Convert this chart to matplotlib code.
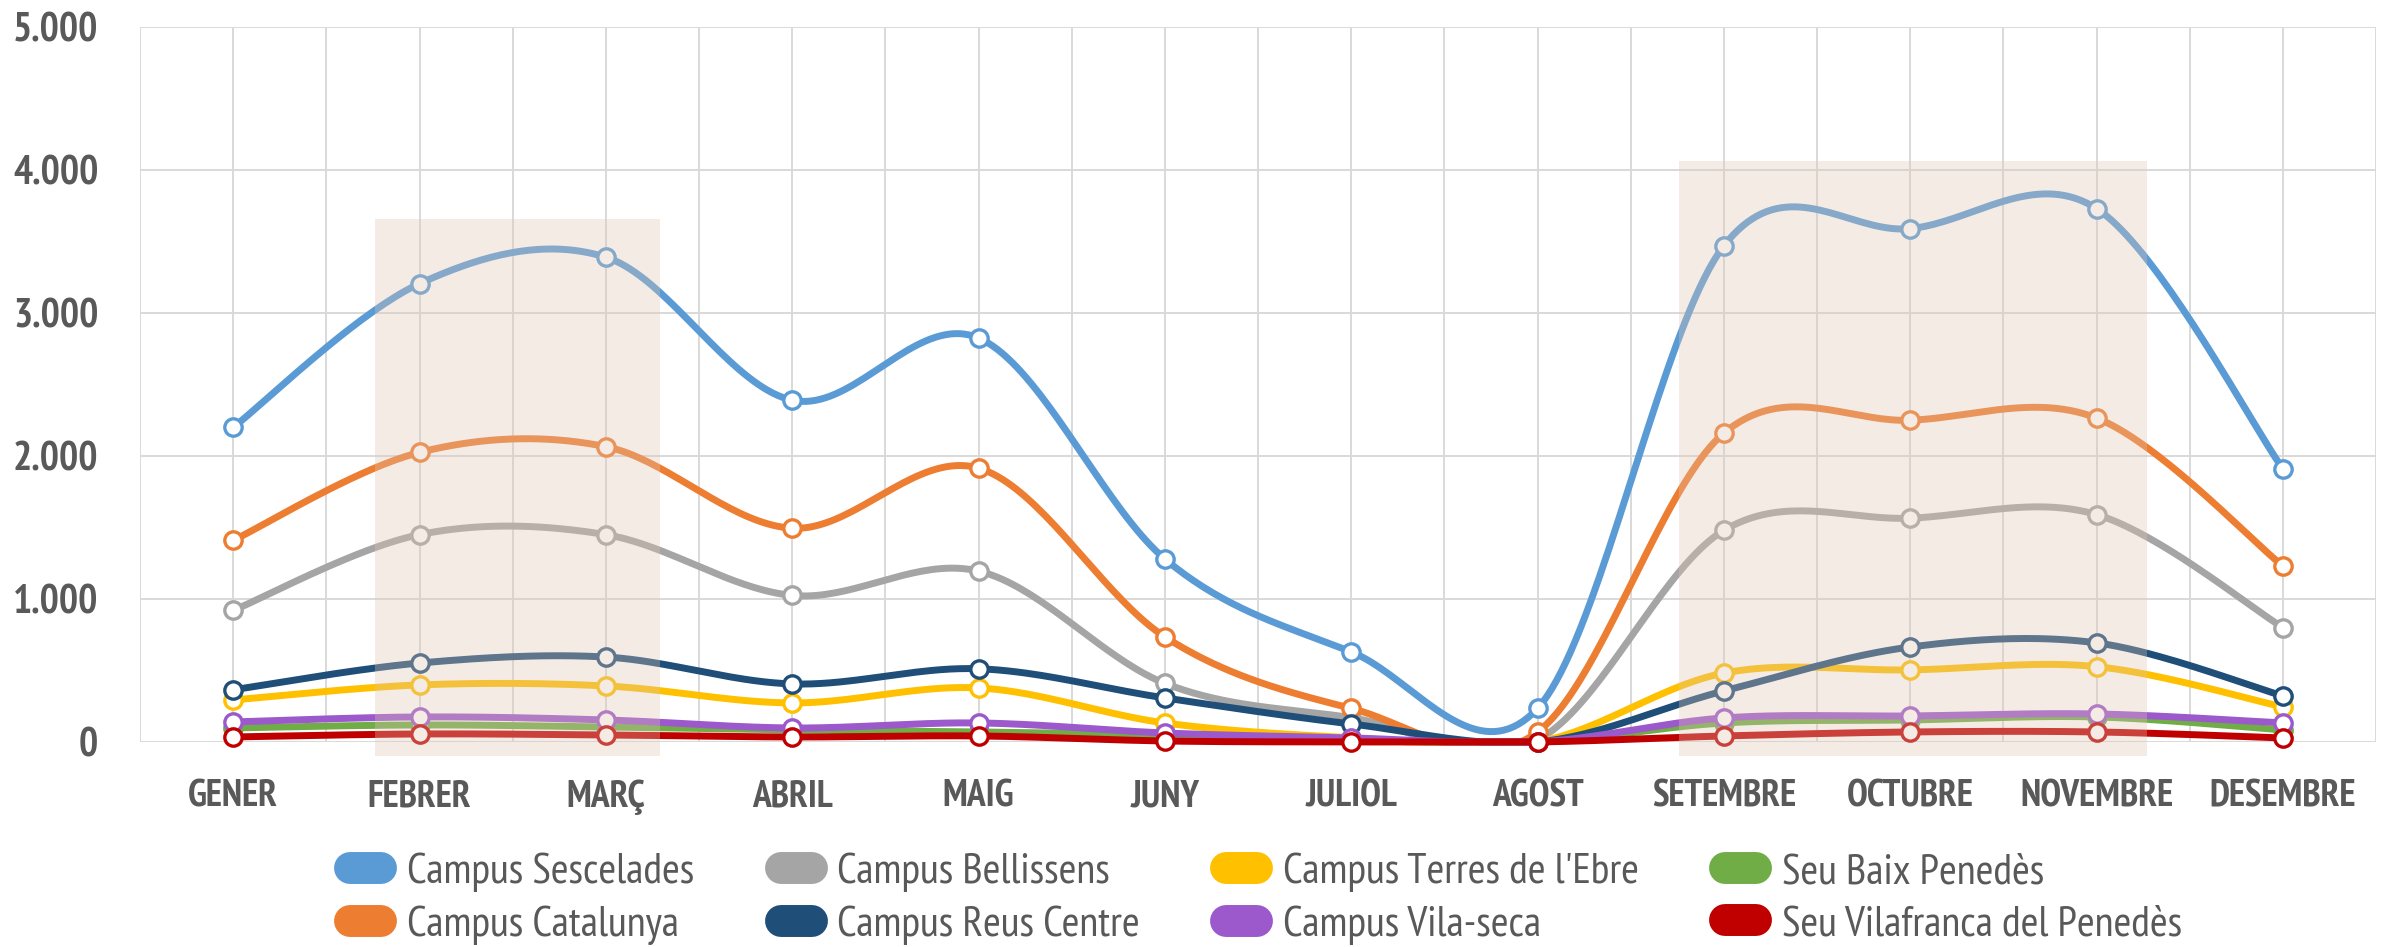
import matplotlib.pyplot as plt
import numpy as np
from matplotlib.lines import Line2D
from matplotlib.patches import Rectangle

mesos = ["GENER", "FEBRER", "MARÇ", "ABRIL", "MAIG", "JUNY", "JULIOL",
         "AGOST", "SETEMBRE", "OCTUBRE", "NOVEMBRE", "DESEMBRE"]

sescelades = [2200, 3205, 3390, 2390, 2825, 1280, 630, 235, 3470, 3590, 3730, 1910]
catalunya = [1410, 2025, 2065, 1495, 1915, 735, 235, 70, 2160, 2250, 2265, 1230]
bellissens = [920, 1450, 1450, 1025, 1195, 410, 170, 15, 1480, 1565, 1590, 800]
reus = [365, 552, 594, 406, 512, 308, 126, 0, 357, 664, 693, 322]
terres = [294, 399, 392, 273, 378, 133, 30, 0, 482, 504, 527, 245]
vilaseca = [140, 175, 154, 98, 133, 63, 28, 0, 168, 182, 196, 133]
baix = [98, 119, 105, 84, 70, 49, 14, 0, 133, 154, 175, 84]
vilafranca = [35, 56, 49, 35, 42, 7, 0, 0, 42, 70, 70, 28]

# (nom, valors, color) in Excel series order
series = [
    ("Campus Sescelades", sescelades, "#5B9BD5"),
    ("Campus Bellissens", bellissens, "#A5A5A5"),
    ("Campus Terres de l'Ebre", terres, "#FFC000"),
    ("Seu Baix Penedès", baix, "#70AD47"),
    ("Campus Catalunya", catalunya, "#ED7D31"),
    ("Campus Reus Centre", reus, "#1F4E79"),
    ("Campus Vila-seca", vilaseca, "#9B59CB"),
    ("Seu Vilafranca del Penedès", vilafranca, "#C00000"),
]
ordre_llegenda = [0, 4, 1, 5, 2, 6, 3, 7]

# shaded periods: (x start, x end, top)
periodes = [(0.76, 2.29, 3660), (7.76, 10.27, 4060)]

FONT = ["PT Sans Narrow", "DejaVu Sans"]
GRIS = "#595959"


def suavitzar(y, n=40):
    # Excel-like smoothed line (Bezier with 1/6 tangents)
    y = np.asarray(y, dtype=float)
    x = np.arange(len(y), dtype=float)
    xs, ys = [], []
    t = np.linspace(0, 1, n)
    for i in range(len(y) - 1):
        i0, i3 = max(i - 1, 0), min(i + 2, len(y) - 1)
        p0 = np.array([x[i], y[i]])
        p3 = np.array([x[i + 1], y[i + 1]])
        p1 = p0 + (np.array([x[i + 1], y[i + 1]]) - np.array([x[i0], y[i0]])) / 6
        p2 = p3 - (np.array([x[i3], y[i3]]) - np.array([x[i], y[i]])) / 6
        b = ((1 - t) ** 3)[:, None] * p0 + (3 * (1 - t) ** 2 * t)[:, None] * p1 \
            + (3 * (1 - t) * t ** 2)[:, None] * p2 + (t ** 3)[:, None] * p3
        xs.append(b[:, 0])
        ys.append(b[:, 1])
    return np.concatenate(xs), np.clip(np.concatenate(ys), 0, None)


fig = plt.figure(figsize=(23.89, 9.47), dpi=100)
ax = fig.add_axes([0.0586, 0.2165, 0.936, 0.755])

x = np.arange(len(mesos))
for k, (nom, vals, col) in enumerate(series):
    xs, ys = suavitzar(vals)
    ax.plot(xs, ys, color=col, lw=5, solid_capstyle="round", zorder=3 + k, clip_on=False)
    ax.plot(x, vals, "o", ms=12.5, mfc="white", mec=col, mew=2.4, zorder=3 + k, clip_on=False)

for x0, x1, top in periodes:
    ax.add_patch(Rectangle((x0, -100), x1 - x0, top + 100, facecolor="#E0C5B3",
                           alpha=0.33, lw=0, zorder=20, clip_on=False))

ax.set_xlim(-0.5, 11.5)
ax.set_ylim(0, 5000)
ax.set_yticks(range(0, 5001, 1000))
ax.set_yticklabels(["0", "1.000", "2.000", "3.000", "4.000", "5.000"])
ax.set_xticks(x)
ax.set_xticklabels(mesos)
ax.set_xticks(np.arange(-0.5, 12, 1), minor=True)
ax.grid(True, which="both", color="#D9D9D9", lw=1.4, zorder=0)
ax.tick_params(which="both", length=0)
ax.tick_params(axis="x", pad=27)
ax.tick_params(axis="y", pad=30)
for s in ax.spines.values():
    s.set_visible(False)
for lab in ax.get_xticklabels():
    lab.set_fontfamily(FONT)
    lab.set_fontweight("bold")
    lab.set_fontsize(27)
    lab.set_color(GRIS)
for lab in ax.get_yticklabels():
    lab.set_fontfamily(FONT)
    lab.set_fontweight("bold")
    lab.set_fontsize(29)
    lab.set_color(GRIS)

handles = []
labels = []
for i in ordre_llegenda:
    nom, vals, col = series[i]
    handles.append(Line2D([0, 1], [0, 0], color=col, lw=23, solid_capstyle="round"))
    labels.append(nom)
leg = fig.legend(handles, labels, ncol=4, loc="center", bbox_to_anchor=(0.53, 0.051),
                 frameon=False, handlelength=0.72, handletextpad=0.6, columnspacing=2.0,
                 labelspacing=0.3, prop={"family": FONT, "size": 31})
for t in leg.get_texts():
    t.set_color(GRIS)

fig.savefig("out.png", dpi=100)
